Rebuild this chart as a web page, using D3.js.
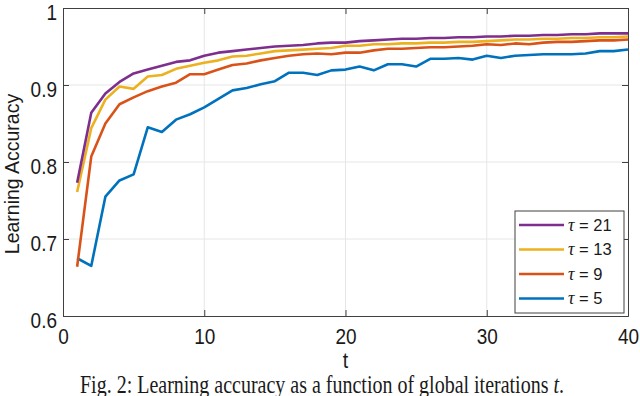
<!DOCTYPE html>
<html>
<head>
<meta charset="utf-8">
<script src="https://d3js.org/d3.v7.min.js"></script>
<style>
  body { margin: 0; background: #fff; }
  .tickText { font-family: "Liberation Sans", Arial, sans-serif; font-size: 19px; fill: #1a1a1a; }
  .axisText { font-family: "Liberation Sans", Arial, sans-serif; font-size: 19.5px; fill: #1a1a1a; }
  .legendText { font-family: "Liberation Sans", Arial, sans-serif; font-size: 16.5px; fill: #1a1a1a; }
  .caption { font-family: "Liberation Serif", "Times New Roman", serif; font-size: 20px; fill: #1a1a1a; }
</style>
</head>
<body>
<div id="chart"></div>
<script>
// iterations
var iterations = d3.range(1, 41);

// learning accuracy per tau
var tau21 = [0.773, 0.864, 0.889, 0.904, 0.915, 0.920, 0.925, 0.930, 0.932, 0.938,
             0.942, 0.944, 0.946, 0.948, 0.950, 0.951, 0.952, 0.954, 0.955, 0.955,
             0.957, 0.958, 0.959, 0.960, 0.960, 0.961, 0.961, 0.962, 0.962, 0.963,
             0.963, 0.964, 0.964, 0.965, 0.965, 0.966, 0.966, 0.967, 0.967, 0.967];
var tau13 = [0.761, 0.844, 0.881, 0.898, 0.895, 0.911, 0.913, 0.921, 0.925, 0.929,
             0.932, 0.937, 0.938, 0.941, 0.944, 0.945, 0.946, 0.947, 0.948, 0.951,
             0.951, 0.953, 0.953, 0.954, 0.954, 0.955, 0.955, 0.956, 0.956, 0.957,
             0.958, 0.959, 0.959, 0.960, 0.960, 0.961, 0.961, 0.962, 0.962, 0.963];
var tau9 = [0.664, 0.807, 0.850, 0.875, 0.884, 0.892, 0.898, 0.903, 0.914, 0.914,
            0.920, 0.926, 0.928, 0.932, 0.935, 0.938, 0.940, 0.941, 0.940, 0.942,
            0.942, 0.945, 0.947, 0.947, 0.948, 0.949, 0.949, 0.950, 0.951, 0.953,
            0.952, 0.954, 0.953, 0.955, 0.956, 0.956, 0.957, 0.958, 0.958, 0.959];
var tau5 = [0.675, 0.665, 0.755, 0.776, 0.784, 0.845, 0.839, 0.855, 0.862, 0.871,
            0.882, 0.893, 0.896, 0.901, 0.905, 0.916, 0.916, 0.913, 0.919, 0.920,
            0.924, 0.919, 0.927, 0.927, 0.924, 0.934, 0.934, 0.935, 0.933, 0.938,
            0.935, 0.938, 0.939, 0.940, 0.940, 0.940, 0.941, 0.944, 0.944, 0.946];

var seriesNames = ["\u03c4 = 21", "\u03c4 = 13", "\u03c4 = 9", "\u03c4 = 5"];
var seriesColors = ["#7E2F8E", "#EDB120", "#D95319", "#0072BD"];
var seriesValues = [tau21, tau13, tau9, tau5];

var xTicks = [0, 10, 20, 30, 40];
var yTicks = [0.6, 0.7, 0.8, 0.9, 1];

// the reference text looks a bit taller than wide
var stretch = 1.2;

var svgWidth = 640;
var svgHeight = 396;
var margin = { top: 8, right: 12, bottom: 80, left: 63 };
var width = svgWidth - margin.left - margin.right;
var height = svgHeight - margin.top - margin.bottom;

var svg = d3.select("#chart")
  .append("svg")
  .attr("width", svgWidth)
  .attr("height", svgHeight);

var chartGroup = svg.append("g")
  .attr("transform", `translate(${margin.left}, ${margin.top})`);

// scales
var xScale = d3.scaleLinear().domain([0, 40]).range([0, width]);
var yScale = d3.scaleLinear().domain([0.6, 1]).range([height, 0]);

// grid
chartGroup.selectAll("line.vgrid")
  .data(xTicks.slice(1, -1))
  .enter()
  .append("line")
  .attr("class", "vgrid")
  .attr("x1", d => xScale(d)).attr("x2", d => xScale(d))
  .attr("y1", 0).attr("y2", height)
  .attr("stroke", "#e6e6e6").attr("stroke-width", 1);

chartGroup.selectAll("line.hgrid")
  .data(yTicks.slice(1, -1))
  .enter()
  .append("line")
  .attr("class", "hgrid")
  .attr("x1", 0).attr("x2", width)
  .attr("y1", d => yScale(d)).attr("y2", d => yScale(d))
  .attr("stroke", "#e6e6e6").attr("stroke-width", 1);

// axes (matlab style ticks pointing inward, box on)
var xAxis = d3.axisBottom(xScale).tickValues(xTicks).tickSize(-6).tickFormat(d3.format("d"));
var yAxis = d3.axisLeft(yScale).tickValues(yTicks).tickSize(-6).tickPadding(6).tickFormat(d => d === 1 ? "1" : d3.format(".1f")(d));
var xAxisTop = d3.axisTop(xScale).tickValues(xTicks).tickSize(-6).tickFormat("");
var yAxisRight = d3.axisRight(yScale).tickValues(yTicks).tickSize(-6).tickFormat("");

var gx = chartGroup.append("g").attr("transform", `translate(0, ${height})`).call(xAxis);
var gy = chartGroup.append("g").call(yAxis);
var gxt = chartGroup.append("g").call(xAxisTop);
var gyr = chartGroup.append("g").attr("transform", `translate(${width}, 0)`).call(yAxisRight);

[gx, gy, gxt, gyr].forEach(function (g) {
  g.select(".domain").attr("stroke", "#404040").attr("stroke-width", 1);
  g.selectAll(".tick line").attr("stroke", "#404040");
  g.selectAll(".tick text").attr("class", "tickText").attr("fill", null);
});
// labels stretched vertically, centre placed by y / stretch
gx.selectAll(".tick text")
  .attr("y", 20 / stretch)
  .attr("dy", "0.36em")
  .attr("transform", `scale(1, ${stretch})`);
gy.selectAll(".tick text")
  .attr("y", 3 / stretch)
  .attr("dy", "0.36em")
  .attr("transform", `scale(1, ${stretch})`);

// lines, drawn blue first so purple is on top
var lineGen = d3.line()
  .x((d, i) => xScale(iterations[i]))
  .y(d => yScale(d));

chartGroup.selectAll("path.series")
  .data(seriesValues.slice().reverse())
  .enter()
  .append("path")
  .attr("class", "series")
  .attr("d", d => lineGen(d))
  .attr("fill", "none")
  .attr("stroke", (d, i) => seriesColors.slice().reverse()[i])
  .attr("stroke-width", 2.6)
  .attr("stroke-linejoin", "round");

// legend
var legend = chartGroup.append("g")
  .attr("transform", `translate(${515 - margin.left}, ${211 - margin.top})`);

legend.append("rect")
  .attr("width", 109).attr("height", 102)
  .attr("fill", "#fff").attr("stroke", "#404040").attr("stroke-width", 1);

var legendRows = legend.selectAll("g.row")
  .data(seriesNames)
  .enter()
  .append("g")
  .attr("class", "row")
  .attr("transform", (d, i) => `translate(0, ${14 + i * 24.5})`);

legendRows.append("line")
  .attr("x1", 4).attr("x2", 49)
  .attr("stroke", (d, i) => seriesColors[i])
  .attr("stroke-width", 2.6);

var legendText = legendRows.append("text")
  .attr("class", "legendText")
  .attr("x", 53)
  .attr("dy", "0.36em");
legendText.append("tspan")
  .style("font-family", "'Liberation Serif', serif")
  .style("font-style", "italic")
  .style("font-size", "18px")
  .text("\u03c4");
legendText.append("tspan").text(d => d.slice(1));

// axis labels
chartGroup.append("text")
  .attr("class", "axisText")
  .attr("transform", `translate(${-margin.left + 12}, ${height / 2 + 12}) rotate(-90)`)
  .attr("text-anchor", "middle")
  .attr("dy", "0.36em")
  .text("Learning Accuracy");

chartGroup.append("text")
  .attr("class", "axisText")
  .attr("transform", `translate(${width / 2}, ${height + 44}) scale(1, 1.1)`)
  .attr("text-anchor", "middle")
  .attr("dy", "0.36em")
  .text("t");

// caption
var caption = svg.append("text")
  .attr("class", "caption")
  .attr("transform", `translate(322, 393) scale(1, 1.25)`)
  .attr("text-anchor", "middle");
caption.append("tspan").text("Fig. 2: Learning accuracy as a function of global iterations ");
caption.append("tspan").style("font-style", "italic").text("t");
caption.append("tspan").text(".");
</script>
</body>
</html>
